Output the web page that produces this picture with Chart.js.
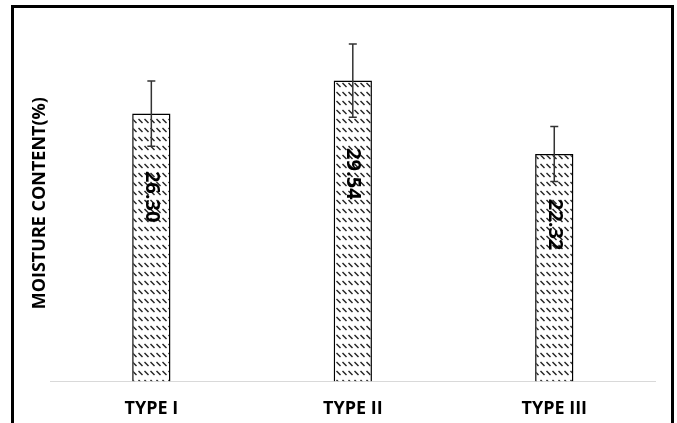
<!DOCTYPE html>
<html>
<head>
<meta charset="utf-8">
<script src="https://cdn.jsdelivr.net/npm/chart.js@4.4.0/dist/chart.umd.min.js"></script>
<style>
  html, body { margin: 0; padding: 0; background: #fff; }
  #wrap { position: relative; width: 677px; height: 423px; }
  #frame {
    position: absolute; left: 11px; top: 5px; width: 657px; height: 430px;
    border: 3px solid #000; pointer-events: none;
  }
</style>
</head>
<body>
<div id="wrap">
  <canvas id="moistureChart" width="677" height="423"></canvas>
  <div id="frame"></div>
</div>
<script>
// === Chart data ===
const categories = ['TYPE I', 'TYPE II', 'TYPE III'];
const moisture = [26.30, 29.54, 22.32];
const errors = [3.2, 3.6, 2.7];
const valueLabels = ['26.30', '29.54', '22.32'];
const yTitle = 'MOISTURE CONTENT(%)';

// === Hatch pattern (dashed downward diagonal) ===
function makeHatch() {
  const tile = document.createElement('canvas');
  tile.width = 6;
  tile.height = 9;
  const c = tile.getContext('2d');
  c.fillStyle = '#fff';
  c.fillRect(0, 0, 6, 9);
  c.strokeStyle = '#222';
  c.lineWidth = 1.4;
  c.beginPath();
  c.moveTo(0.5, 2);
  c.lineTo(4.5, 6);
  c.stroke();
  return c.createPattern(tile, 'repeat');
}

// === Error bars ===
const errorBars = {
  id: 'errorBars',
  afterDatasetsDraw(chart) {
    const ctx = chart.ctx;
    const meta = chart.getDatasetMeta(0);
    const y = chart.scales.y;
    ctx.save();
    ctx.strokeStyle = '#333';
    ctx.lineWidth = 1.5;
    meta.data.forEach((bar, i) => {
      const top = y.getPixelForValue(moisture[i] + errors[i]);
      const bot = y.getPixelForValue(moisture[i] - errors[i]);
      ctx.beginPath();
      ctx.moveTo(bar.x, top);
      ctx.lineTo(bar.x, bot);
      ctx.moveTo(bar.x - 4, top);
      ctx.lineTo(bar.x + 4, top);
      ctx.moveTo(bar.x - 4, bot);
      ctx.lineTo(bar.x + 4, bot);
      ctx.stroke();
    });
    ctx.restore();
  }
};

// === Rotated value labels ===
const valueText = {
  id: 'valueText',
  afterDatasetsDraw(chart) {
    const ctx = chart.ctx;
    const meta = chart.getDatasetMeta(0);
    const y = chart.scales.y;
    ctx.save();
    ctx.fillStyle = '#000';
    ctx.font = 'bold 20px "Open Sans"';
    ctx.textAlign = 'center';
    ctx.textBaseline = 'middle';
    meta.data.forEach((bar, i) => {
      const cy = y.getPixelForValue(moisture[i] * 0.69);
      ctx.save();
      ctx.translate(bar.x, cy);
      ctx.rotate(Math.PI / 2);
      ctx.fillText(valueLabels[i], 0, 0);
      ctx.restore();
    });
    ctx.restore();
  }
};

const ctx = document.getElementById('moistureChart').getContext('2d');
new Chart(ctx, {
  type: 'bar',
  data: {
    labels: categories,
    datasets: [{
      data: moisture,
      backgroundColor: makeHatch(),
      borderColor: '#000',
      borderWidth: 1.5,
      borderSkipped: 'bottom',
      categoryPercentage: 0.19,
      barPercentage: 1
    }]
  },
  options: {
    responsive: false,
    animation: false,
    layout: { padding: { left: 29, right: 22, top: 25, bottom: -14 } },
    plugins: {
      legend: { display: false },
      tooltip: { enabled: false }
    },
    scales: {
      x: {
        grid: { display: false, drawTicks: false },
        border: { color: '#d9d9d9', width: 1 },
        ticks: {
          color: '#000',
          padding: 17,
          font: { family: 'Open Sans', size: 18, weight: 'bold' }
        }
      },
      y: {
        min: 0,
        max: 35,
        grid: { display: false, drawTicks: false },
        border: { display: false },
        ticks: { display: false },
        title: {
          display: true,
          text: yTitle,
          color: '#000',
          padding: 0,
          font: { family: 'Open Sans', size: 18, weight: 'bold' }
        }
      }
    }
  },
  plugins: [errorBars, valueText]
});
</script>
</body>
</html>
